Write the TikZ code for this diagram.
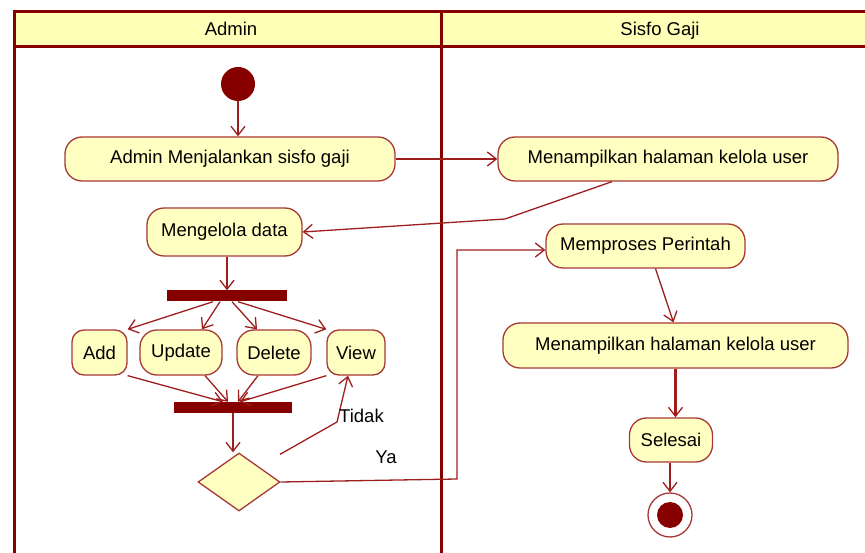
\documentclass[tikz,border=0pt]{standalone}
\usepackage{fontspec}
\setmainfont{Liberation Sans}
\usetikzlibrary{arrows.meta,shapes.geometric}

\definecolor{lanered}{HTML}{860000}
\definecolor{edgered}{HTML}{9E1E1E}
\definecolor{boxline}{HTML}{A83838}
\definecolor{boxfill}{HTML}{FFFFC2}
\definecolor{headfill}{HTML}{FFFFB8}

\tikzset{
  act/.style={draw=boxline, line width=1.3pt, fill=boxfill, rounded corners=17pt,
    minimum height=44pt, inner sep=0pt, font=\fontsize{18.5}{21}\selectfont},
  bar/.style={fill=lanered, draw=none, minimum height=11pt, inner sep=0pt},
  flow/.style={draw=edgered, line width=1.3pt,
    -{Straight Barb[length=9pt,width=14pt,line width=1.3pt]}},
  lane/.style={draw=lanered, line width=3pt},
  lbl/.style={font=\fontsize{18.5}{21}\selectfont, inner sep=0pt},
}

\begin{document}
\begin{tikzpicture}[x=1pt,y=-1pt]
\useasboundingbox (0,0) rectangle (865,553);

% swimlane frame and headers
\fill[headfill] (14,12) rectangle (870,47);
\draw[lane] (870,12) -- (14,12) -- (14,560);
\draw[lane] (14,47) -- (870,47);
\draw[lane] (441,12) -- (441,560);
\node[lbl, anchor=base] (hadmin) at (231,36) {Admin};
\node[lbl, anchor=base] (hsys) at (660,36) {Sisfo Gaji};

% Admin lane
\node[circle, fill=lanered, minimum size=34pt, inner sep=0pt] (start) at (238,84) {};
\node[act, minimum width=330pt] (run) at (230,159) {Admin Menjalankan sisfo gaji};
\node[act, minimum width=155pt, minimum height=48pt] (manage) at (224.5,232) {Mengelola data};
\node[bar, minimum width=120pt] (fork) at (227,296) {};
\node[act, minimum width=55pt, minimum height=45pt, rounded corners=12pt] (add) at (99.5,352.5) {Add};
\node[act, minimum width=82pt, minimum height=45pt] (update) at (181,352.5) {Update};
\node[act, minimum width=74pt, minimum height=45pt] (delete) at (274,352.5) {Delete};
\node[act, minimum width=58pt, minimum height=45pt, rounded corners=12pt] (view) at (356,352.5) {View};
\node[bar, minimum width=118pt] (join) at (233,407.5) {};
\node[diamond, draw=boxline, line width=1.3pt, fill=boxfill, aspect=1.4,
  minimum width=82pt, minimum height=58pt, inner sep=0pt] (dec) at (239,482) {};

% Sisfo Gaji lane
\node[act, minimum width=340pt] (show1) at (668,159) {Menampilkan halaman kelola user};
\node[act, minimum width=199pt] (proc) at (645.5,246) {Memproses Perintah};
\node[act, minimum width=345pt, minimum height=45pt] (show2) at (675.5,345.5) {Menampilkan halaman kelola user};
\node[act, minimum width=83pt] (done) at (671,440) {Selesai};
\node[circle, draw=boxline, line width=1.3pt, fill=white, minimum size=44pt, inner sep=0pt] (stop) at (670,515) {};
\node[circle, fill=lanered, minimum size=26pt, inner sep=0pt] (stopdot) at (stop) {};

% connectors
\draw[flow] (start) -- (run.north -| start);
\draw[flow] (run.east) -- (show1.west);
\coordinate (bend1) at (505,219);
\draw[flow] ([xshift=-56pt]show1.south) -- (bend1) -- (manage.east);
\draw[flow] (manage.south -| fork) -- (fork.north);

\draw[flow] ([xshift=-14pt]fork.south) -- (add.north east);
\draw[flow] ([xshift=-7pt]fork.south) -- ([xshift=21pt]update.north);
\draw[flow] ([xshift=5pt]fork.south) -- ([xshift=-17pt]delete.north);
\draw[flow] ([xshift=11pt]fork.south) -- (view.north west);

\draw[flow] (add.south east) -- ([xshift=-10pt]join.north);
\draw[flow] ([xshift=24pt]update.south) -- ([xshift=-5pt]join.north);
\draw[flow] ([xshift=-16pt]delete.south) -- ([xshift=5pt]join.north);
\draw[flow] (view.south west) -- ([xshift=7pt]join.north);

\draw[flow] (join.south) -- (join.south |- dec.north);

% "Tidak": back to View
\coordinate (tk) at (337,422);
\draw[flow] ([xshift=41pt,yshift=-2pt]dec.north) -- (tk) -- ([xshift=-8pt]view.south);
\node[lbl, anchor=west] (tidak) at (339,416) {Tidak};

% "Ya": on to the system lane
\coordinate (ya1) at (457,479);
\draw[flow] (dec.east) -- (ya1) |- ([yshift=-4pt]proc.west);
\node[lbl] (ya) at (386,457) {Ya};

\draw[flow] ([xshift=10pt]proc.south) -- ([xshift=-2pt]show2.north);
\draw[draw=edgered, line width=3pt,
  -{Straight Barb[length=9pt,width=14pt,line width=1.3pt]}] (show2.south) -- (show2.south |- done.north);
\draw[flow] (done.south -| stop) -- (stop.north);
\end{tikzpicture}
\end{document}
